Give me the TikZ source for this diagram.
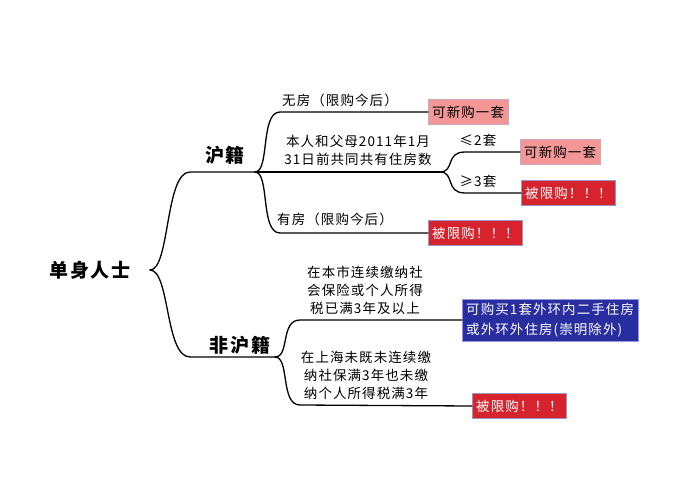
\documentclass[tikz,border=0pt]{standalone}
\usepackage{fontspec}
\setmainfont{Noto Sans CJK SC}[LetterSpace=8]
\begin{document}
\begin{tikzpicture}[x=1pt,y=-1pt,
  line/.style={black,line width=1.3pt,line cap=round},
  txt/.style={font=\fontsize{13.5}{18}\selectfont,align=center,inner sep=0pt},
  head/.style={font=\fontsize{19}{22}\selectfont\bfseries,inner sep=0pt},
  pinkbox/.style={anchor=west,fill={rgb,255:red,242;green,150;blue,150},draw={rgb,255:red,200;green,170;blue,200},font=\fontsize{13.5}{15}\selectfont,minimum height=25pt,inner xsep=4pt},
  redbox/.style={anchor=west,fill={rgb,255:red,215;green,35;blue,45},draw={rgb,255:red,150;green,150;blue,200},text=white,font=\fontsize{13.5}{15}\selectfont,minimum height=25pt,inner xsep=4pt},
  bluebox/.style={anchor=west,fill={rgb,255:red,40;green,45;blue,160},draw={rgb,255:red,150;green,150;blue,220},text=white,font=\fontsize{13.5}{20}\selectfont,align=left,inner sep=4pt}]
\useasboundingbox (0,0) rectangle (676,500);
% root
\node[head] (root) at (90,270) {单身人士};
\coordinate (r) at (150,270);
\coordinate (hj) at (190,172);
\coordinate (fhj) at (190,357);
\draw[line] (r) .. controls (170,270) and (165,172) .. (hj) -- (255,172);
\draw[line] (r) .. controls (170,270) and (165,357) .. (fhj) -- (275,357);
\node[head] (hjlab) at (225,155) {沪籍};
\node[head] (fhjlab) at (240,345) {非沪籍};
% 沪籍
\coordinate (hs) at (255,172);
\node[pinkbox] (b1) at (428,112) {可新购一套};
\node[redbox] (b2) at (428,233) {被限购！！！};
\draw[line] (hs) .. controls (270,172) and (260,112) .. (280,112) -- (b1.west);
\draw[line] (hs) .. controls (270,172) and (260,233) .. (280,233) -- (b2.west);
\node[txt] (t1) at (340,100) {无房（限购今后）};
\node[txt] (t2) at (358,150) {本人和父母2011年1月\\31日前共同共有住房数};
\node[txt] (t3) at (335,219) {有房（限购今后）};
\coordinate (ms) at (440,172);
\draw[line] (hs) -- (ms);
\node[pinkbox] (b3) at (520,152) {可新购一套};
\node[redbox] (b4) at (521,193) {被限购！！！};
\draw[line] (ms) .. controls (455,172) and (445,152) .. (465,152) -- (b3.west);
\draw[line] (ms) .. controls (455,172) and (445,193) .. (465,193) -- (b4.west);
\node[txt] (t4) at (478,140) {≤2套};
\node[txt] (t5) at (478,181) {≥3套};
% 非沪籍
\coordinate (fs) at (275,357);
\node[bluebox] (b5) at (462,320) {可购买1套外环内二手住房\\或外环外住房(崇明除外)};
\node[redbox] (b6) at (472,406) {被限购！！！};
\draw[line] (fs) .. controls (290,357) and (280,320) .. (300,320) -- (b5.west);
\draw[line] (fs) .. controls (290,357) and (280,405) .. (300,405) -- (b6.west);
\node[txt] (t6) at (365,290) {在本市连续缴纳社\\会保险或个人所得\\税已满3年及以上};
\node[txt] (t7) at (366,375) {在上海未既未连续缴\\纳社保满3年也未缴\\纳个人所得税满3年};
\end{tikzpicture}
\end{document}
